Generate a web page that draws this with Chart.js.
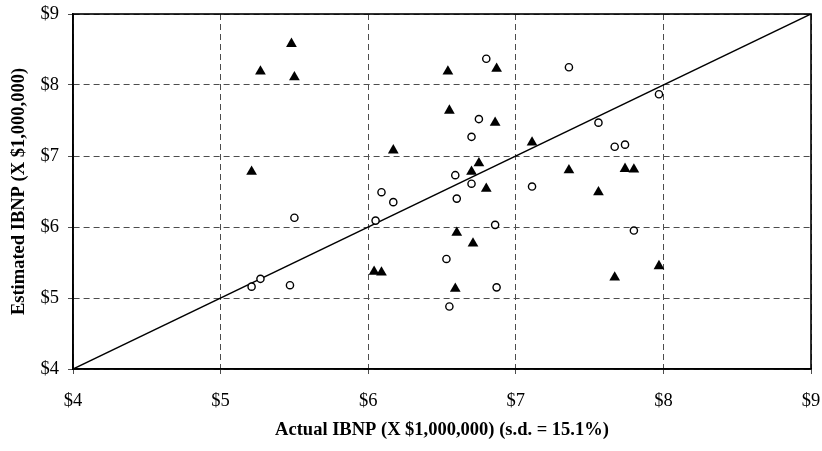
<!DOCTYPE html>
<html>
<head>
<meta charset="utf-8">
<title>Estimated vs Actual IBNP</title>
<script src="https://cdn.jsdelivr.net/npm/chart.js@4/dist/chart.umd.min.js"></script>
<style>
    html, body { margin: 0; padding: 0; background: #ffffff; }
    #wrap { width: 822px; height: 451px; position: relative; }
</style>
</head>
<body>
<div id="wrap"><canvas id="ibnpChart"></canvas></div>
<script>
// Axis ticks ($ millions)
const tickValues = [4, 5, 6, 7, 8, 9];
const tickLabels = ['$4', '$5', '$6', '$7', '$8', '$9'];

// Open circles
const circleActual = [5.21, 5.27, 5.47, 5.50, 6.05, 6.09, 6.17, 6.53, 6.55, 6.59, 6.60, 6.70,
                      6.70, 6.75, 6.80, 6.86, 6.87, 7.11, 7.36, 7.56, 7.67, 7.74, 7.80, 7.97];
const circleEstimated = [5.16, 5.27, 5.18, 6.13, 6.09, 6.49, 6.35, 5.55, 4.88, 6.73, 6.40, 6.61,
                         7.27, 7.52, 8.37, 6.03, 5.15, 6.57, 8.25, 7.47, 7.13, 7.16, 5.95, 7.87];

// Filled triangles
const triangleActual = [5.21, 5.27, 5.48, 5.50, 6.04, 6.09, 6.17, 6.54, 6.55, 6.59, 6.60, 6.70,
                        6.71, 6.75, 6.80, 6.86, 6.87, 7.11, 7.36, 7.56, 7.67, 7.74, 7.80, 7.97];
const triangleEstimated = [6.78, 8.19, 8.58, 8.11, 5.37, 5.36, 7.08, 8.19, 7.64, 5.13, 5.92, 6.78,
                           5.77, 6.90, 6.54, 7.47, 8.23, 7.19, 6.80, 6.49, 5.29, 6.82, 6.81, 5.45];

// Reference line: estimate = actual
const diagonal = [4, 9];

function toPoints(xs, ys) {
    return xs.map((x, i) => ({ x: x, y: ys[i] }));
}

// Draws the frame around the plot area
const frame = {
    id: 'frame',
    afterDatasetsDraw(chart) {
        const a = chart.chartArea;
        const ctx = chart.ctx;
        ctx.save();
        ctx.strokeStyle = '#000000';
        ctx.lineWidth = 1.6;
        ctx.strokeRect(a.left, a.top, a.right - a.left, a.bottom - a.top);
        ctx.restore();
    }
};

const serif = '"Liberation Serif", "Times New Roman", serif';

const axisCommon = {
    type: 'linear',
    min: 4,
    max: 9,
    afterBuildTicks: function(scale) {
        scale.ticks = tickValues.map(v => ({ value: v }));
    },
    grid: {
        color: '#4d4d4d',
        lineWidth: 1,
        drawTicks: true,
        tickLength: 5,
        tickColor: '#4d4d4d',
        tickBorderDash: []
    },
    border: { display: true, color: '#000000', width: 1.6, dash: [6, 4] },
    ticks: {
        color: '#000000',
        font: { family: serif, size: 18.5 },
        callback: function(value) {
            const i = tickValues.indexOf(value);
            return i >= 0 ? tickLabels[i] : '';
        }
    }
};

new Chart(document.getElementById('ibnpChart'), {
    type: 'scatter',
    data: {
        datasets: [
            {
                label: 'Estimate A',
                data: toPoints(circleActual, circleEstimated),
                pointStyle: 'circle',
                pointRadius: 3.6,
                pointBorderWidth: 1.4,
                pointBorderColor: '#000000',
                pointBackgroundColor: '#ffffff',
                order: 1
            },
            {
                label: 'Estimate B',
                data: toPoints(triangleActual, triangleEstimated),
                pointStyle: 'triangle',
                pointRadius: 6.2,
                pointBorderWidth: 0,
                pointBorderColor: '#000000',
                pointBackgroundColor: '#000000',
                order: 0
            },
            {
                label: 'Actual = Estimated',
                data: toPoints(diagonal, diagonal),
                showLine: true,
                borderColor: '#000000',
                borderWidth: 1.5,
                pointRadius: 0,
                order: 2
            }
        ]
    },
    options: {
        responsive: true,
        maintainAspectRatio: false,
        animation: false,
        layout: { padding: { top: 14, right: 11, left: 0, bottom: 0 } },
        plugins: {
            legend: { display: false },
            tooltip: { enabled: false }
        },
        scales: {
            x: Object.assign({}, axisCommon, {
                position: 'bottom',
                ticks: Object.assign({}, axisCommon.ticks, { padding: 16, maxRotation: 0 }),
                title: {
                    display: true,
                    text: 'Actual IBNP (X $1,000,000) (s.d. = 15.1%)',
                    color: '#000000',
                    font: { family: serif, size: 18.5, weight: 'bold' },
                    padding: { top: 0, bottom: 10 }
                },
                afterFit: function(scale) {
                    scale.height = 82;
                    scale.paddingLeft = 0;
                    scale.paddingRight = 0;
                }
            }),
            y: Object.assign({}, axisCommon, {
                position: 'left',
                ticks: Object.assign({}, axisCommon.ticks, { padding: 9 }),
                title: {
                    display: true,
                    text: 'Estimated IBNP (X $1,000,000)',
                    color: '#000000',
                    font: { family: serif, size: 18.5, weight: 'bold' },
                    padding: { top: 8, bottom: 0 }
                },
                afterFit: function(scale) {
                    scale.width = 73;
                    scale.paddingTop = 0;
                    scale.paddingBottom = 0;
                }
            })
        }
    },
    plugins: [frame]
});
</script>
</body>
</html>
